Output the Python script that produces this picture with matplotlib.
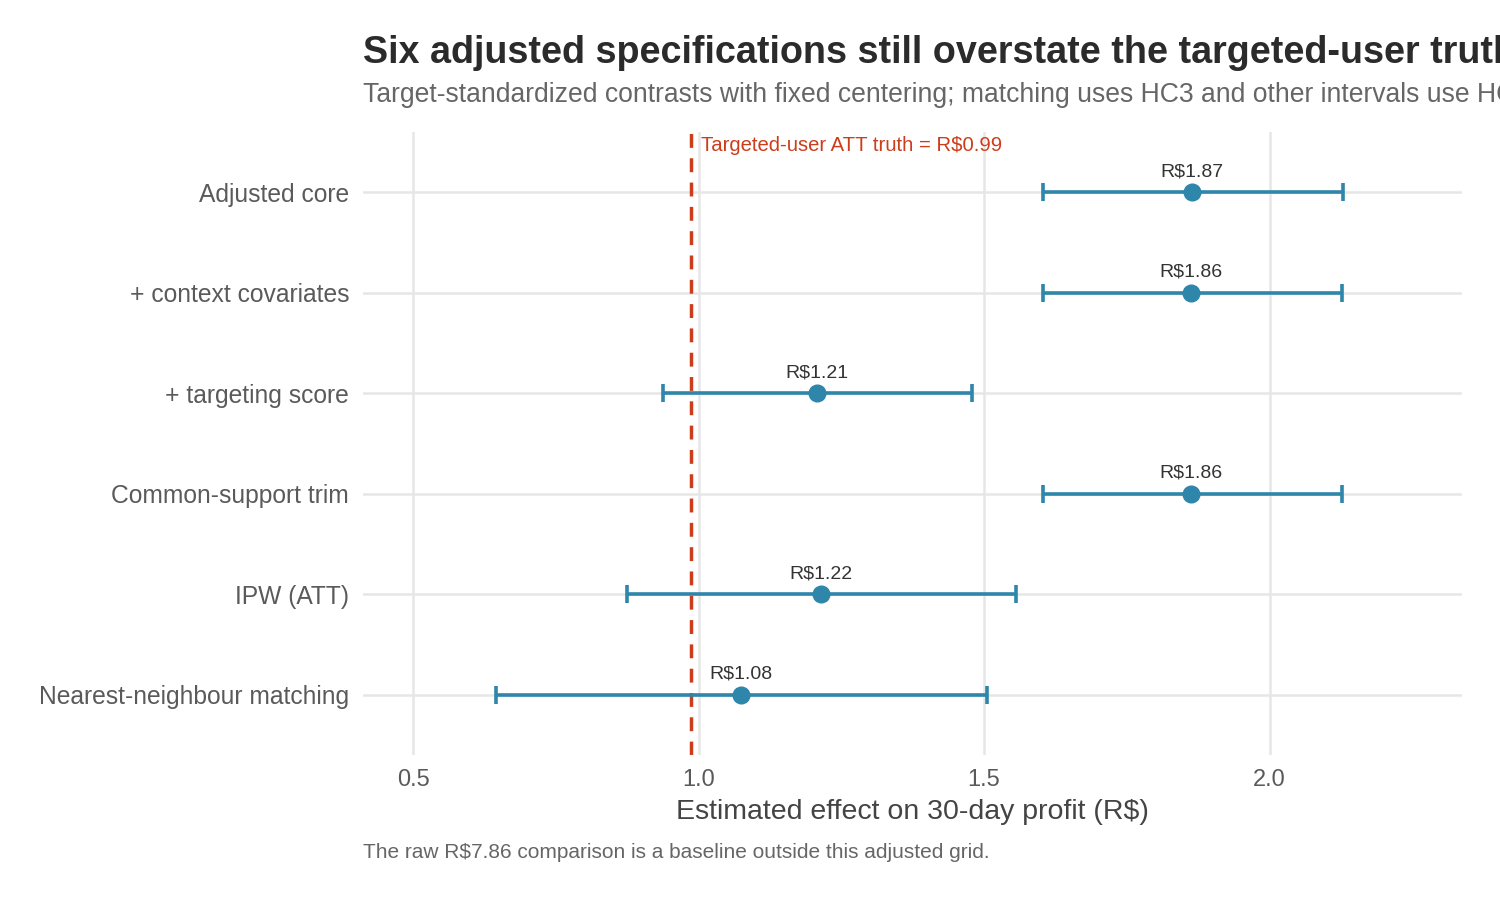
import numpy as np
import matplotlib.pyplot as plt

plt.rcParams['font.family'] = ['Liberation Sans', 'DejaVu Sans']

# Données
specs = ["Adjusted core", "+ context covariates", "+ targeting score",
         "Common-support trim", "IPW (ATT)", "Nearest-neighbour matching"]
estimate = [1.864, 1.862, 1.208, 1.862, 1.215, 1.075]
ci_low = [1.603, 1.603, 0.938, 1.603, 0.875, 0.645]
ci_high = [2.129, 2.127, 1.479, 2.127, 1.556, 1.505]
labels = ["R$1.87", "R$1.86", "R$1.21", "R$1.86", "R$1.22", "R$1.08"]
truth = 0.987

blue = "#2E86AB"
red = "#CC3D1C"

fig = plt.figure(figsize=(15, 9), dpi=100)
ax = fig.add_axes([363/1500, 1 - 755/900, (1462-363)/1500, (755-132)/900])

y = np.arange(len(specs))[::-1]

ax.errorbar(estimate, y, xerr=[np.array(estimate) - np.array(ci_low),
                               np.array(ci_high) - np.array(estimate)],
            fmt='o', color=blue, ms=12, lw=2.6, capsize=6.5, capthick=2.6, zorder=3)
for xi, yi, lab in zip(estimate, y, labels):
    ax.text(xi, yi + 0.12, lab, ha='center', va='bottom', fontsize=14, color='#333333')

ax.axvline(truth, color=red, lw=2.5, ls=(0, (4, 3)), zorder=2)
ax.text(truth + 0.018, 5.47, "Targeted-user ATT truth = R$0.99", color=red,
        fontsize=14.6, ha='left', va='center')

ax.set_xlim(0.4124, 2.337)
ax.set_ylim(-0.6, 5.6)
ax.set_yticks(y)
ax.set_yticklabels(specs, fontsize=17.7, color='#5a5a5a')
ax.set_xticks([0.5, 1.0, 1.5, 2.0])
ax.set_xticklabels(["0.5", "1.0", "1.5", "2.0"], fontsize=17, color='#5a5a5a')
ax.tick_params(length=0, pad=10)
ax.grid(True, color='#e6e6e6', lw=1.8)
ax.set_axisbelow(True)
for s in ax.spines.values():
    s.set_visible(False)

ax.set_xlabel("Estimated effect on 30-day profit (R$)", fontsize=20.5, color='#444444', labelpad=6)

fig.text(363/1500, 1 - 53/900, "Six adjusted specifications still overstate the targeted-user truth",
         fontsize=27.2, fontweight='bold', color='#2b2b2b', va='center', ha='left')
fig.text(363/1500, 1 - 95/900,
         "Target-standardized contrasts with fixed centering; matching uses HC3 and other intervals use HC1",
         fontsize=19.1, color='#666666', va='center', ha='left')
fig.text(363/1500, 1 - 853/900, "The raw R$7.86 comparison is a baseline outside this adjusted grid.",
         fontsize=15, color='#666666', va='center', ha='left')

fig.savefig("out.png", dpi=100)
